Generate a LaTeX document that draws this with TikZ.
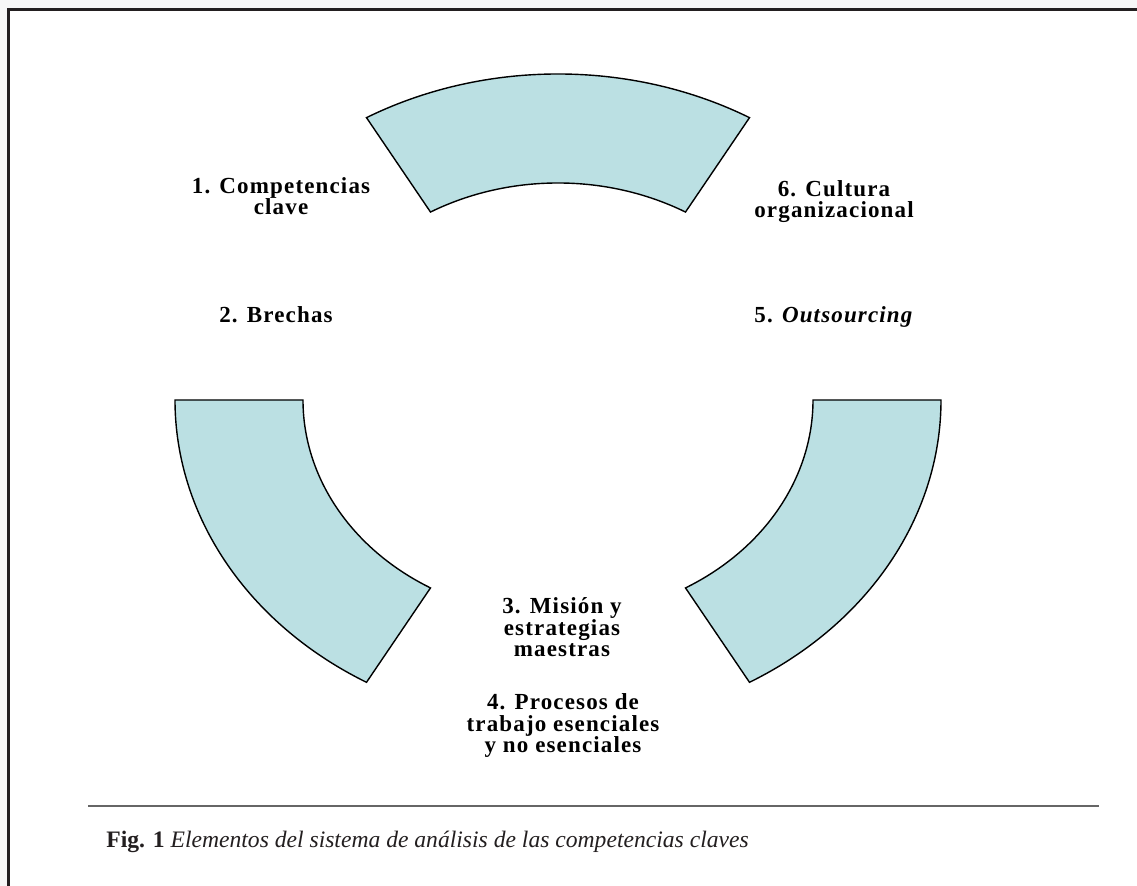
\documentclass[tikz,border=0pt]{standalone}
\usepackage{fontspec}
\setmainfont{Liberation Serif}
\newfontfamily\spacedfont{Liberation Serif}[LetterSpace=5.0]
\usetikzlibrary{calc}
\definecolor{ringfill}{RGB}{187,224,227}
\definecolor{frameink}{RGB}{35,31,32}

\begin{document}
\begin{tikzpicture}[x=0.5pt, y=0.5pt
    , ringpart/.style={draw=black, line width=0.7pt, fill=ringfill}
    , elem/.style={font=\spacedfont\bfseries\fontsize{11.5}{10.8}\selectfont, align=center, anchor=base, inner sep=0pt}
    ]
    \useasboundingbox (0,0) rectangle (1137,886);
    \fill[black!3] (0,0) rectangle (1137,886);
    \fill[white] (8,0) rectangle (1137,877);
    \draw[frameink, line width=1.5pt] (8.5,0) -- (8.5,876.5) -- (1137,876.5);

    \coordinate (ring) at (558,486);
    \foreach \a in {60,180,300}
      \draw[ringpart] (ring) ++(\a:383 and 326)
        arc[start angle=\a, delta angle=60, x radius=383, y radius=326]
        -- ($(ring)+(\a+60:255 and 217)$)
        arc[start angle=\a+60, delta angle=-60, x radius=255, y radius=217] -- cycle;

    % base of a multi-line node sits on its last line
    \node[elem] (competencias) at (281,671) {1. Competencias\\clave};
    \node[elem] (brechas) at (276,563) {2. Brechas};
    \node[elem] (mision) at (562,229) {3. Misión y\\estrategias\\maestras};
    \node[elem] (procesos) at (563,133) {4. Procesos de\\trabajo esenciales\\y no esenciales};
    \node[elem] (outsourcing) at (834,563) {5. \textit{Outsourcing}};
    \node[elem] (cultura) at (834,668) {6. Cultura\\organizacional};

    \draw[black!60, line width=1pt] (88,80) coordinate (rule west) -- (1099,80) coordinate (rule east);
    \node[anchor=base west, inner sep=0pt, text=frameink, font=\fontsize{11.8}{14}\selectfont] (caption) at (106,38)
      {\textbf{Fig. 1} \textit{Elementos del sistema de análisis de las competencias claves}};
  \end{tikzpicture}
\end{document}
